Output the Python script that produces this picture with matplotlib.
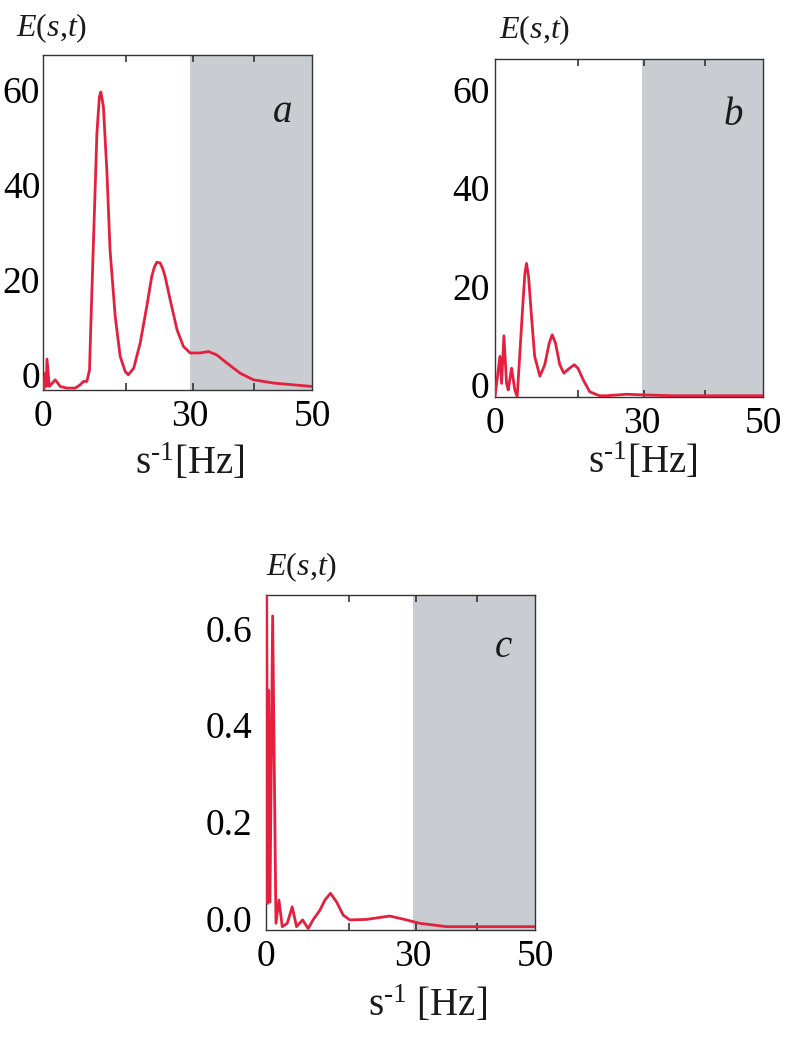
"""Wavelet energy spectra E(s,t) for three recordings (panels a, b, c)."""

import matplotlib

matplotlib.use("Agg")
import matplotlib.pyplot as plt
import numpy as np

plt.rcParams["font.family"] = ["Liberation Serif", "DejaVu Serif"]
plt.rcParams["mathtext.fontset"] = "custom"
plt.rcParams["mathtext.rm"] = "Liberation Serif"
plt.rcParams["mathtext.it"] = "Liberation Serif:italic"

LINE_COLOR = "#E4203F"
SHADE_COLOR = "#C9CCD1"
SHADE_FROM = 30.0
X_MAX = 50.0
# the published frequency axis is mildly stretched at the low end
POWER = 1.18

# ── Panel a ─────────────────────────────────────────────────────────────
freq_a = [0.31, 0.89, 1.2, 1.41, 2.07, 3.64, 4.87, 6.42, 8.27, 9.35, 10.06,
          10.75, 11.3, 11.6, 12.8, 13.3, 13.6, 14.1, 14.8, 15.4, 16.4, 17.35,
          18.3, 18.9, 19.9, 21.1, 22.3, 23.2, 23.65, 24.1, 24.7, 25.2, 25.6,
          26.5, 27.7, 28.8, 30.0, 31.7, 33.1, 34.5, 36.2, 38.4, 40.6, 43.9,
          50.0]
energy_a = [-3.1, 0.35, -2.46, 3.3, -2.46, -1.05, -2.46, -2.8, -2.8, -2.1, -1.4,
            -1.4, 1.05, 11.6, 50.9, 58.6, 59.6, 56.5, 42.5, 26.3, 12.3, 3.9,
            0.7, 0.0, 1.4, 6.7, 14.4, 20.7, 22.6, 23.7, 23.6, 22.3, 20.7,
            15.8, 9.5, 6.0, 4.6, 4.6, 4.9, 4.2, 2.5, 0.35, -1.05, -1.75,
            -2.46]

# ── Panel b ─────────────────────────────────────────────────────────────
freq_b = [0.0, 0.67, 1.7, 2.17, 2.8, 3.49, 3.91, 4.73, 5.5, 6.06, 7.4, 7.8,
          8.15, 8.6, 9.23, 9.9, 11.0, 12.0, 12.9, 13.5, 14.15, 15.0, 15.8,
          16.9, 17.8, 18.5, 19.5, 20.7, 22.5, 23.75, 27.3, 29.65, 35.3, 40.9,
          50.0]
energy_b = [-2.4, 0.3, 5.8, 0.3, 10.0, 0.3, -1.0, 3.4, -1.0, -2.4, 17.3, 22.7,
            24.7, 22.0, 13.9, 5.8, 1.8, 4.1, 8.5, 10.2, 8.5, 4.1, 2.4,
            3.4, 4.1, 3.4, 1.0, -1.4, -2.2, -2.2, -1.9, -2.0, -2.2, -2.2,
            -2.2]

# ── Panel c ─────────────────────────────────────────────────────────────
freq_c = [0.0, 0.31, 0.67, 1.0, 1.4, 2.17, 3.06, 3.82, 4.63, 5.81, 6.95, 7.91,
          9.21, 10.4, 11.4, 12.8, 13.8, 14.9, 16.1, 17.35, 18.6, 21.7, 25.9,
          28.8, 31.1, 35.7, 50.0]
energy_c = [0.68, 0.68, 0.031, 0.472, 0.034, 0.626, -0.010, 0.038, -0.017,
            -0.010, 0.024, -0.017, -0.003, -0.021, -0.003, 0.017, 0.038, 0.052,
            0.034, 0.007, -0.003, -0.002, 0.005, -0.003, -0.010, -0.017,
            -0.017]

Y_TICKS_AB = [0, 20, 40, 60]
Y_TICKS_C = [0.0, 0.2, 0.4, 0.6]
Y_LABELS_C = ["0.0", "0.2", "0.4", "0.6"]
X_TICKS = [0, 30, 50]
QUARTERS = [0.25, 0.5, 0.75]

X_LABEL = r"s$^{\text{-}1}$[Hz]"
X_LABEL_C = r"s$^{\text{-}1}$ [Hz]"


def _fwd(x):
    x = np.asarray(x, dtype=float)
    return np.sign(x) * np.abs(x) ** POWER


def _inv(y):
    y = np.asarray(y, dtype=float)
    return np.sign(y) * np.abs(y) ** (1.0 / POWER)


def _to_frac(x):
    return _fwd(x) / _fwd(X_MAX)


def _from_frac(f):
    return _inv(np.asarray(f, dtype=float) * _fwd(X_MAX))


def _panel(fig, rect, freq, energy, ylim, yticks, ylabels, ypad, letter,
           letter_xy, ylab_xy, xlab_xy, xlab_text):
    ax = fig.add_axes(rect)
    ax.set_xscale("function", functions=(_fwd, _inv))
    ax.axvspan(SHADE_FROM, X_MAX, color=SHADE_COLOR, lw=0, zorder=0)
    ax.plot(freq, energy, color=LINE_COLOR, lw=2.0, zorder=3,
            solid_joinstyle="round", solid_capstyle="round")
    ax.set_xlim(0, X_MAX)
    ax.set_ylim(*ylim)

    ax.set_xticks(X_TICKS)
    ax.set_xticklabels([str(t) for t in X_TICKS])
    ax.set_yticks(yticks)
    ax.set_yticklabels(ylabels)
    ax.tick_params(axis="x", length=0, pad=7, labelsize=27)
    ax.tick_params(axis="y", length=0, pad=ypad, labelsize=27)
    for sp in ax.spines.values():
        sp.set_color("#333333")
        sp.set_linewidth(1.0)

    # small inward marks at the quarters of the frame, top and bottom
    for side in ("top", "bottom"):
        sec = ax.secondary_xaxis(side, functions=(_to_frac, _from_frac))
        sec.set_xticks(QUARTERS)
        sec.set_xticklabels([])
        sec.tick_params(axis="x", direction="in", length=5, width=1.2,
                        color="#333333", labelsize=1)
        sec.spines[side].set_visible(False)

    ax.text(*letter_xy, letter, transform=ax.transAxes, ha="center",
            va="center", fontsize=28, fontstyle="italic", color="#1a1a1a")
    ax.text(*ylab_xy, r"$E(s{,}t)$", transform=ax.transAxes, ha="center",
            va="center", fontsize=23, color="#1a1a1a")
    ax.text(*xlab_xy, xlab_text, transform=ax.transAxes, ha="center",
            va="center", fontsize=28, color="#1a1a1a")
    return ax


def main() -> None:
    fig = plt.figure(figsize=(7.95, 10.38), dpi=100)

    _panel(fig, [0.0541, 0.6243, 0.3384, 0.3227], freq_a, energy_a,
           (-3.2, 67.4), Y_TICKS_AB, [str(t) for t in Y_TICKS_AB], 2,
           "a", (0.892, 0.827), (0.033, 1.081), (0.546, -0.218), X_LABEL)
    _panel(fig, [0.6226, 0.6178, 0.3375, 0.3250], freq_b, energy_b,
           (-2.4, 66.2), Y_TICKS_AB, [str(t) for t in Y_TICKS_AB], 4,
           "b", (0.887, 0.835), (0.147, 1.087), (0.552, -0.194), X_LABEL)
    _panel(fig, [0.3346, 0.1040, 0.3384, 0.3227], freq_c, energy_c,
           (-0.024, 0.669), Y_TICKS_C, Y_LABELS_C, 10,
           "c", (0.881, 0.845), (0.132, 1.084), (0.602, -0.224), X_LABEL_C)

    fig.savefig("out.png", dpi=100)
    plt.close(fig)


if __name__ == "__main__":
    main()
